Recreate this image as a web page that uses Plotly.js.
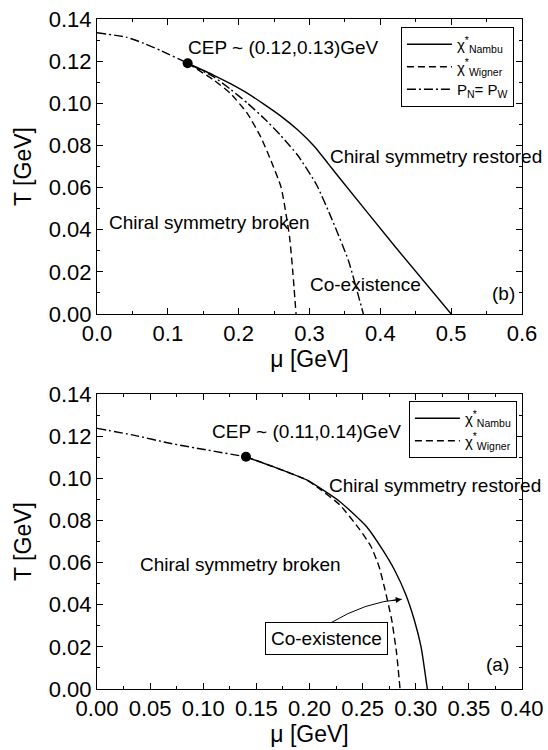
<!DOCTYPE html>
<html>
<head>
<meta charset="utf-8">
<script src="https://cdn.plot.ly/plotly-3.0.1.min.js"></script>
<style>html,body{margin:0;padding:0;background:#fff;}#chart{width:548px;height:750px;}</style>
</head>
<body>
<div id="chart"></div>
<script>
// ---- Panel (b), top ----
const b_nambu_mu = [0.128, 0.165, 0.189, 0.2126, 0.236, 0.260, 0.2836, 0.3073, 0.326, 0.343, 0.421, 0.500];
const b_nambu_T  = [0.119, 0.1133, 0.1092, 0.1047, 0.0995, 0.0938, 0.0873, 0.0794, 0.0715, 0.0643, 0.0319, 0.0];
const b_wigner_mu = [0.128, 0.165, 0.189, 0.2126, 0.2315, 0.2457, 0.260, 0.2718, 0.2766, 0.281];
const b_wigner_T  = [0.119, 0.111, 0.1045, 0.095, 0.0838, 0.0727, 0.060, 0.0367, 0.0193, 0.0];
const b_pnpw_mu = [0.0, 0.042, 0.0658, 0.0895, 0.128, 0.165, 0.189, 0.2126, 0.236, 0.260, 0.2836, 0.3097, 0.331, 0.3547, 0.376];
const b_pnpw_T  = [0.1335, 0.1313, 0.1285, 0.1251, 0.119, 0.1125, 0.1065, 0.1000, 0.0928, 0.0845, 0.0752, 0.0615, 0.0455, 0.0256, 0.0];
const b_cep_mu = [0.128];
const b_cep_T  = [0.119];

// ---- Panel (a), bottom ----
const a_nambu_mu = [0.1402, 0.1659, 0.1974, 0.2287, 0.2538, 0.2695, 0.2805, 0.2905, 0.2985, 0.305, 0.3109];
const a_nambu_T  = [0.1102, 0.1055, 0.0992, 0.0889, 0.077, 0.0655, 0.0560, 0.0450, 0.0330, 0.0200, 0.0];
const a_wigner_mu = [0.1402, 0.1659, 0.1974, 0.2068, 0.2287, 0.2475, 0.258, 0.2655, 0.2711, 0.2773, 0.282, 0.2852];
const a_wigner_T  = [0.1102, 0.1055, 0.0992, 0.096, 0.0873, 0.0755, 0.0675, 0.058, 0.0470, 0.0330, 0.0169, 0.0];
const a_cross_mu = [0.0, 0.0342, 0.0687, 0.1402];
const a_cross_T  = [0.1237, 0.1205, 0.1166, 0.1102];
const a_cep_mu = [0.1402];
const a_cep_T  = [0.1102];

const FONT = 'Liberation Sans, Arial, Helvetica, sans-serif';
const blk = '#000';
const DASH = '7px,4px';
const DASHDOT = '9px,3px,2px,3px';
const SM = 0.5;

const traces = [
  {x: b_nambu_mu, y: b_nambu_T, xaxis:'x', yaxis:'y', mode:'lines', line:{color:blk, width:1.4, shape:'spline', smoothing:SM},
   name:'χ<sup>*</sup><sub>Nambu</sub>', legend:'legend'},
  {x: b_wigner_mu, y: b_wigner_T, xaxis:'x', yaxis:'y', mode:'lines', line:{color:blk, width:1.4, dash:DASH, shape:'spline', smoothing:SM},
   name:'χ<sup>*</sup><sub>Wigner</sub>', legend:'legend'},
  {x: b_pnpw_mu, y: b_pnpw_T, xaxis:'x', yaxis:'y', mode:'lines', line:{color:blk, width:1.4, dash:DASHDOT, shape:'spline', smoothing:SM},
   name:'P<sub>N</sub>= P<sub>W</sub>', legend:'legend'},
  {x: b_cep_mu, y: b_cep_T, xaxis:'x', yaxis:'y', mode:'markers', marker:{color:blk, size:10}, showlegend:false},

  {x: a_nambu_mu, y: a_nambu_T, xaxis:'x2', yaxis:'y2', mode:'lines', line:{color:blk, width:1.4, shape:'spline', smoothing:SM},
   name:'χ<sup>*</sup><sub>Nambu</sub>', legend:'legend2'},
  {x: a_wigner_mu, y: a_wigner_T, xaxis:'x2', yaxis:'y2', mode:'lines', line:{color:blk, width:1.4, dash:DASH, shape:'spline', smoothing:SM},
   name:'χ<sup>*</sup><sub>Wigner</sub>', legend:'legend2'},
  {x: a_cross_mu, y: a_cross_T, xaxis:'x2', yaxis:'y2', mode:'lines', line:{color:blk, width:1.4, dash:DASHDOT, shape:'spline', smoothing:SM},
   showlegend:false},
  {x: a_cep_mu, y: a_cep_T, xaxis:'x2', yaxis:'y2', mode:'markers', marker:{color:blk, size:10}, showlegend:false}
];

function xax(range, dtick, fmt, anchor, minorD) {
  return {range: range, dtick: dtick, tick0: 0, tickformat: fmt, anchor: anchor,
    ticks:'inside', ticklen:6, tickwidth:1, tickcolor:blk,
    minor:{ticks:'inside', dtick:minorD, tick0:0, ticklen:3, tickwidth:1, tickcolor:blk, showgrid:false},
    mirror:'allticks', showline:true, linecolor:blk, linewidth:1,
    showgrid:false, zeroline:false,
    tickfont:{family:FONT, size:22, color:blk},
    title:{text:'μ [GeV]', font:{family:FONT, size:23, color:blk}, standoff:4}};
}
function yax(domain, anchor) {
  return {domain: domain, range:[0,0.14], dtick:0.02, tick0:0, tickformat:'.2f', anchor: anchor,
    ticks:'inside', ticklen:6, tickwidth:1, tickcolor:blk,
    minor:{ticks:'inside', dtick:0.01, tick0:0, ticklen:3, tickwidth:1, tickcolor:blk, showgrid:false},
    mirror:'allticks', showline:true, linecolor:blk, linewidth:1,
    showgrid:false, zeroline:false,
    tickfont:{family:FONT, size:22, color:blk},
    title:{text:'T [GeV]', font:{family:FONT, size:23, color:blk}, standoff:10}};
}

const annFont = {family:FONT, size:19, color:blk};
function txt(x, y, t, xref, yref, anchor) {
  return {x:x, y:y, xref:xref, yref:yref, text:t, showarrow:false, xanchor:anchor||'left', yanchor:'middle', font:annFont};
}

const legFont = {family:FONT, size:15, color:blk};
const layout = {
  width:548, height:750,
  margin:{l:97, r:26, t:19, b:61},
  paper_bgcolor:'#fff', plot_bgcolor:'#fff',
  font:{family:FONT, color:blk},
  xaxis: xax([0,0.6], 0.1, '.1f', 'y', 0.05),
  yaxis: yax([0.5597,1], 'x'),
  xaxis2: xax([0,0.4], 0.05, '.2f', 'y2', 0.025),
  yaxis2: yax([0,0.4403], 'x2'),
  legend:{x:0.981, y:0.988, xanchor:'right', yanchor:'top', bgcolor:'#fff', bordercolor:blk, borderwidth:1,
    font:legFont, itemwidth:45, tracegroupgap:0},
  legend2:{x:0.988, y:0.4299, xanchor:'right', yanchor:'top', bgcolor:'#fff', bordercolor:blk, borderwidth:1,
    font:legFont, itemwidth:45, tracegroupgap:0},
  annotations:[
    txt(0.125, 0.1267, 'CEP ~ (0.12,0.13)GeV', 'x', 'y'),
    txt(0.3267, 0.0747, 'Chiral symmetry restored', 'x', 'y'),
    txt(0.0142, 0.0432, 'Chiral symmetry broken', 'x', 'y'),
    txt(0.2978, 0.0141, 'Co-existence', 'x', 'y'),
    txt(0.5739, 0.0095, '(b)', 'x', 'y', 'center'),

    txt(0.1064, 0.122, 'CEP ~ (0.11,0.14)GeV', 'x2', 'y2'),
    txt(0.2168, 0.0968, 'Chiral symmetry restored', 'x2', 'y2'),
    txt(0.0386, 0.0589, 'Chiral symmetry broken', 'x2', 'y2'),
    txt(0.3774, 0.0114, '(a)', 'x2', 'y2', 'center'),
    {x:0.2156, y:0.0242, xref:'x2', yref:'y2', text:'Co-existence', showarrow:false, xanchor:'center', yanchor:'middle',
     font:annFont, bordercolor:blk, borderwidth:1, borderpad:5, bgcolor:'#fff'},
    {x:0.2868, y:0.0426, xref:'x2', yref:'y2', ax:0.276, ay:0.0419, axref:'x2', ayref:'y2', text:'',
     showarrow:true, arrowhead:2, arrowsize:1.2, arrowwidth:1, arrowcolor:blk}
  ],
  shapes:[
    {type:'path', xref:'x2', yref:'y2', path:'M 0.2193,0.0312 Q 0.253,0.0415 0.2868,0.0426', line:{color:blk, width:1}}
  ]
};

Plotly.newPlot('chart', traces, layout, {displayModeBar:false, staticPlot:true});
</script>
</body>
</html>
